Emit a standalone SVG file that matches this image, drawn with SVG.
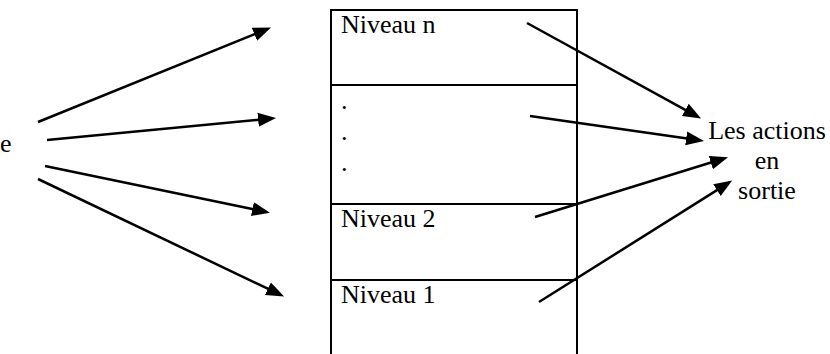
<svg xmlns="http://www.w3.org/2000/svg" width="830" height="354" viewBox="0 0 830 354">
<defs>
<marker id="ah" markerUnits="userSpaceOnUse" markerWidth="20" markerHeight="16" viewBox="0 -8 20 16" refX="1" refY="0" orient="auto">
<path d="M0,-7 L18,0 L0,7 Z" fill="#000"/>
</marker>
<style>
.t{font-family:"Liberation Serif","Times New Roman",serif;font-size:26px;fill:#000}
.c{stroke:#000;stroke-width:2.5;fill:none;marker-end:url(#ah)}
.b{stroke:#000;stroke-width:2;fill:none}
</style>
</defs>
<rect width="830" height="354" fill="#fff"/>
<g id="input"><text class="t" x="0" y="152">e</text></g>
<g id="pile">
<rect class="b" x="331" y="10" width="246" height="360"/>
<line class="b" x1="331" y1="85" x2="577" y2="85"/>
<line class="b" x1="331" y1="204" x2="577" y2="204"/>
<line class="b" x1="331" y1="280" x2="577" y2="280"/>
</g>
<g id="niveau-n"><text class="t" x="341" y="33">Niveau n</text></g>
<g id="dots">
<text class="t" x="341" y="109">.</text>
<text class="t" x="341" y="140">.</text>
<text class="t" x="341" y="171">.</text>
</g>
<g id="niveau-2"><text class="t" x="341" y="227">Niveau 2</text></g>
<g id="niveau-1"><text class="t" x="341" y="303">Niveau 1</text></g>
<g id="sortie">
<text class="t" x="767" y="139" text-anchor="middle">Les actions</text>
<text class="t" x="767" y="169" text-anchor="middle">en</text>
<text class="t" x="767" y="199" text-anchor="middle">sortie</text>
</g>
<g id="connectors">
<line class="c" x1="38" y1="122" x2="255.3" y2="33.8"/>
<line class="c" x1="47" y1="140" x2="259.1" y2="119.7"/>
<line class="c" x1="45" y1="166" x2="253.4" y2="209.3"/>
<line class="c" x1="38" y1="179" x2="268.8" y2="289.2"/>
<line class="c" x1="527" y1="23" x2="686.2" y2="110.3"/>
<line class="c" x1="530" y1="116" x2="687.2" y2="138.5"/>
<line class="c" x1="535" y1="217" x2="711.8" y2="162.3"/>
<line class="c" x1="539" y1="302" x2="717.8" y2="189.6"/>
</g>
</svg>
